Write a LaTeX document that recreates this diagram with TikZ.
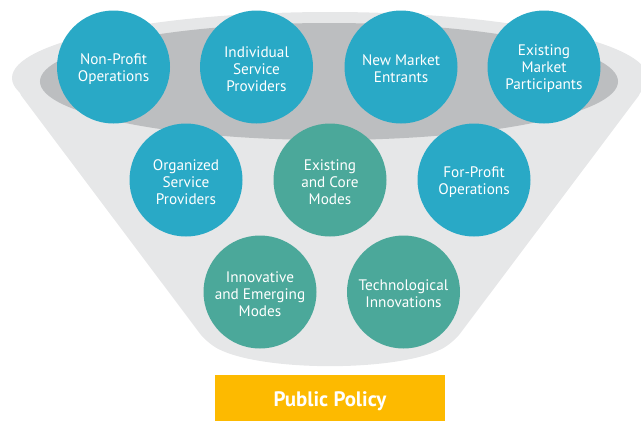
\documentclass[tikz,border=0pt]{standalone}
\usepackage{fontspec}
\setmainfont{PT Sans}
\definecolor{outergray}{HTML}{E6E7E8}
\definecolor{innergray}{HTML}{BCBEC0}
\definecolor{cblue}{HTML}{29A9C6}
\definecolor{cteal}{HTML}{4BA89A}
\definecolor{ppyellow}{HTML}{FDBA00}
\tikzset{
  bubble/.style={circle, minimum size=113bp, inner sep=0pt},
  bluebubble/.style={bubble, fill=cblue},
  tealbubble/.style={bubble, fill=cteal},
  bubbletext/.style={align=center, text=white, inner sep=0pt,
    font=\fontsize{15.3}{17}\selectfont},
  policybox/.style={fill=ppyellow, minimum width=230bp, minimum height=46bp, inner sep=0pt},
  policytext/.style={inner sep=0pt, text=white, font=\fontsize{21}{24}\selectfont\bfseries}
}
\begin{document}
\begin{tikzpicture}[x=1bp,y=-1bp]
\useasboundingbox (0,0) rectangle (641,421);
% funnel
\fill[outergray] (330,78) ellipse [x radius=318bp, y radius=66bp];
\fill[outergray, rounded corners=12bp] (14,86) -- (207,343) .. controls (262,372) and (398,372) .. (453,343) -- (646,86) -- cycle;
\fill[innergray] (329,81.5) ellipse [x radius=289bp, y radius=58.5bp];
% bubbles
\node[bluebubble] (np)  at (113.5,67) {};
\node[bluebubble] (isp) at (256.5,67) {};
\node[bluebubble] (nme) at (401,67)   {};
\node[bluebubble] (emp) at (544,67)   {};
\node[bluebubble] (osp) at (186,180)  {};
\node[tealbubble] (ecm) at (330,180)  {};
\node[bluebubble] (fpo) at (474,180)  {};
\node[tealbubble] (iem) at (260,292)  {};
\node[tealbubble] (ti)  at (403.5,292) {};
% bubble texts
\node[bubbletext] (npt)  at ([yshift=-2bp]np.center)  {Non-Profit\\Operations};
\node[bubbletext] (ispt) at ([yshift=-2bp]isp.center) {Individual\\Service\\Providers};
\node[bubbletext] (nmet) at ([yshift=-2bp]nme.center) {New Market\\Entrants};
\node[bubbletext] (empt) at ([yshift=-2bp]emp.center) {Existing\\Market\\Participants};
\node[bubbletext] (ospt) at ([yshift=-2bp]osp.center) {Organized\\Service\\Providers};
\node[bubbletext] (ecmt) at ([yshift=-2bp]ecm.center) {Existing\\and Core\\Modes};
\node[bubbletext] (fpot) at ([yshift=-2bp]fpo.center) {For-Profit\\Operations};
\node[bubbletext] (iemt) at ([yshift=-2bp]iem.center) {Innovative\\and Emerging\\Modes};
\node[bubbletext] (tit)  at ([yshift=-2bp]ti.center)  {Technological\\Innovations};
% policy box
\node[policybox] (pp) at (330,398) {};
\node[policytext] (ppt) at ([yshift=-3bp]pp.center) {Public Policy};
\end{tikzpicture}
\end{document}
